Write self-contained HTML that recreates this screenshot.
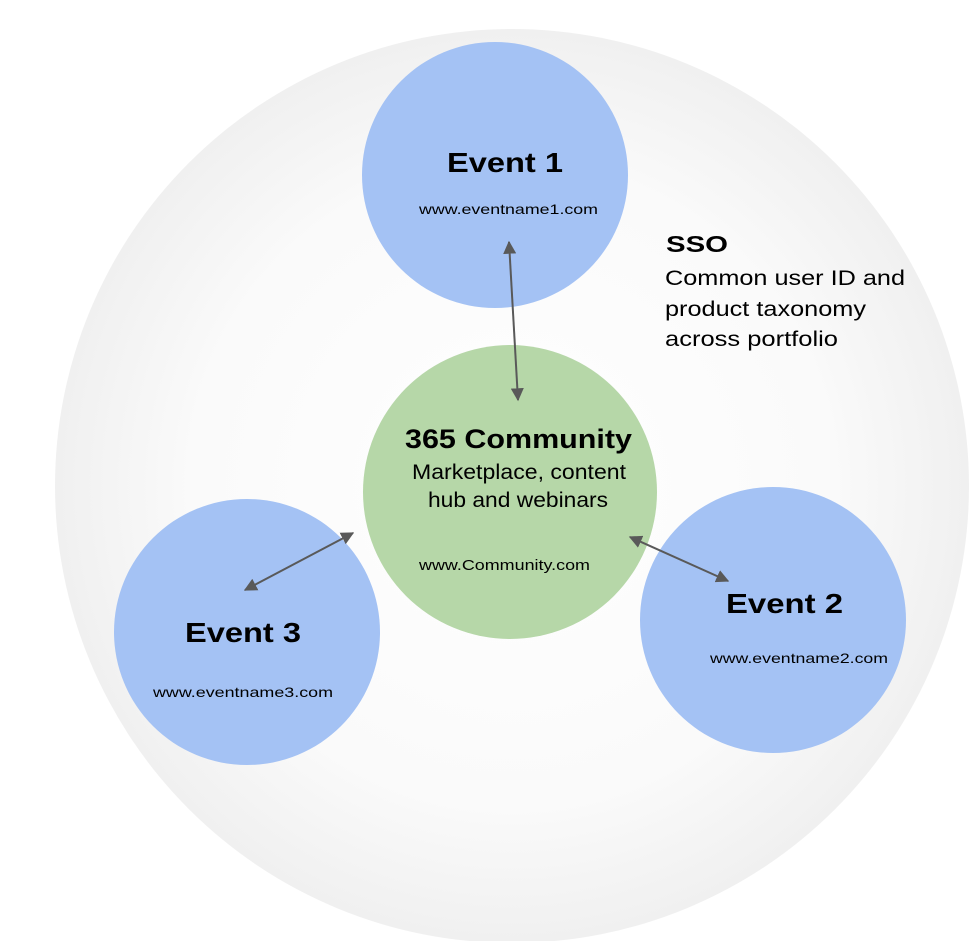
<!DOCTYPE html>
<html><head><meta charset="utf-8"><style>
html,body{margin:0;padding:0;background:#fff;width:980px;height:941px;overflow:hidden}
svg{display:block}
text{font-family:"Liberation Sans",Arial,sans-serif;fill:#000}
</style></head><body>
<svg width="980" height="941" viewBox="0 0 980 941">
<defs>
<radialGradient id="g" cx="0.5" cy="0.5" r="0.5">
<stop offset="0" stop-color="#ffffff"/>
<stop offset="0.7" stop-color="#fafafa"/>
<stop offset="1" stop-color="#f0f0f0"/>
</radialGradient>
<marker id="a" viewBox="0 0 10 10" refX="9" refY="5" markerWidth="6.5" markerHeight="6.5" orient="auto-start-reverse">
<path d="M0,0 L10,5 L0,10 z" fill="#595959"/>
</marker>
</defs>
<circle cx="512" cy="486" r="457" fill="url(#g)"/>
<circle cx="495" cy="175" r="133" fill="#a4c2f4"/>
<circle cx="247" cy="632" r="133" fill="#a4c2f4"/>
<circle cx="773" cy="620" r="133" fill="#a4c2f4"/>
<circle cx="510" cy="492" r="147" fill="#b6d7a8"/>
<g stroke="#595959" stroke-width="2" fill="none">
<line x1="509" y1="242" x2="518" y2="400" marker-start="url(#a)" marker-end="url(#a)"/>
<line x1="630" y1="537" x2="728" y2="581" marker-start="url(#a)" marker-end="url(#a)"/>
<line x1="353" y1="533" x2="245" y2="590" marker-start="url(#a)" marker-end="url(#a)"/>
</g>
<g>
<text x="447" y="172" font-size="28" font-weight="bold" textLength="116" lengthAdjust="spacingAndGlyphs">Event 1</text>
<text x="419" y="214" font-size="14" textLength="179" lengthAdjust="spacingAndGlyphs">www.eventname1.com</text>
<text x="666" y="252" font-size="23" font-weight="bold" textLength="62" lengthAdjust="spacingAndGlyphs">SSO</text>
<text x="665" y="285" font-size="21" textLength="240" lengthAdjust="spacingAndGlyphs">Common user ID and</text>
<text x="665" y="316" font-size="21" textLength="201" lengthAdjust="spacingAndGlyphs">product taxonomy</text>
<text x="665" y="346" font-size="21" textLength="173" lengthAdjust="spacingAndGlyphs">across portfolio</text>
<text x="405" y="448" font-size="27" font-weight="bold" textLength="227" lengthAdjust="spacingAndGlyphs">365 Community</text>
<text x="412" y="479" font-size="21" textLength="214" lengthAdjust="spacingAndGlyphs">Marketplace, content</text>
<text x="428" y="507" font-size="21" textLength="180" lengthAdjust="spacingAndGlyphs">hub and webinars</text>
<text x="419" y="570" font-size="15" textLength="171" lengthAdjust="spacingAndGlyphs">www.Community.com</text>
<text x="726" y="613" font-size="28" font-weight="bold" textLength="117" lengthAdjust="spacingAndGlyphs">Event 2</text>
<text x="710" y="663" font-size="14" textLength="178" lengthAdjust="spacingAndGlyphs">www.eventname2.com</text>
<text x="185" y="642" font-size="28" font-weight="bold" textLength="116" lengthAdjust="spacingAndGlyphs">Event 3</text>
<text x="153" y="697" font-size="14" textLength="180" lengthAdjust="spacingAndGlyphs">www.eventname3.com</text>
</g>
</svg>
</body></html>
